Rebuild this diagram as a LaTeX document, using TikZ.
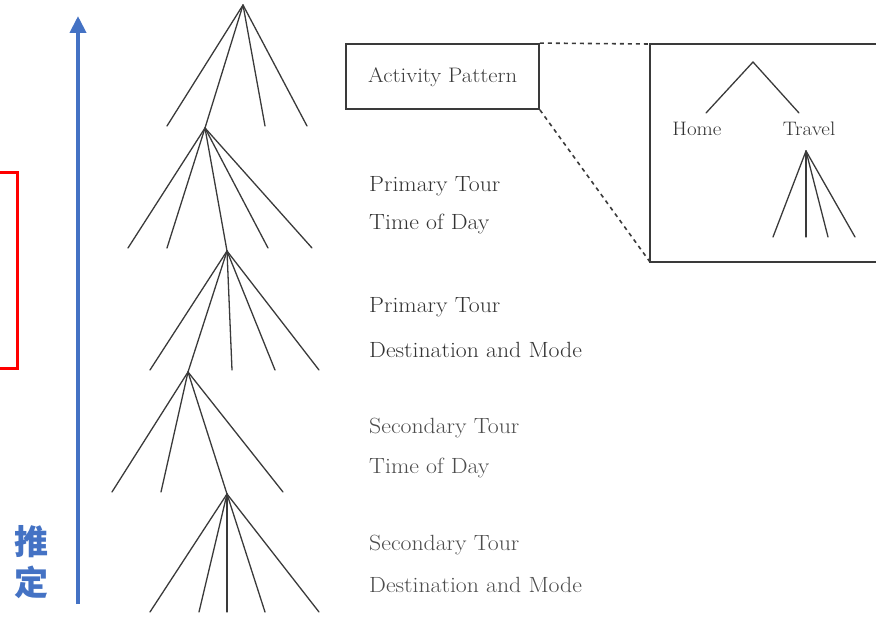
\documentclass[tikz,border=0pt]{standalone}
\usepackage{fontspec}
\newfontfamily\cjk{Noto Sans CJK SC}
\usetikzlibrary{arrows.meta}
\definecolor{arrowblue}{HTML}{4472C4}
\definecolor{ink}{HTML}{3A3A3A}
\definecolor{labeltext}{HTML}{333333}
\definecolor{labellight}{HTML}{4C4C4C}
\begin{document}
\begin{tikzpicture}[x=1pt,y=-1pt,
  branch/.style={draw=ink, line width=1.3pt, line cap=round},
  frame/.style={draw=ink, line width=1.8pt},
  zoomline/.style={draw=ink, line width=1.6pt, dash pattern=on 4pt off 4pt},
  level/.style={anchor=base west, inner sep=0pt, text=labeltext, xscale=1.08, font=\fontsize{22}{26}\selectfont},
  levellight/.style={level, text=labellight},
  small/.style={anchor=base, inner sep=0pt, text=labeltext, xscale=1.08, font=\fontsize{19.5}{23}\selectfont},
  cjklabel/.style={inner sep=0pt, text=arrowblue, font=\cjk\bfseries\fontsize{34}{34}\selectfont}
]
\useasboundingbox (0,0) rectangle (876,620);
\clip (0,0) rectangle (876,620);

% ---- nested choice tree (top to bottom) ----
\coordinate (n1) at (243,5);
\coordinate (n2) at (205,128);
\coordinate (n3) at (227,251);
\coordinate (n4) at (188,372);
\coordinate (n5) at (227,494);

% level 1 : activity pattern
\foreach \x [count=\i] in {167,265,307} \coordinate (a\i) at (\x,126);
\foreach \i in {1,2,3} \draw[branch] (n1) -- (a\i);
\draw[branch] (n1) -- (n2);

% level 2 : primary tour time of day
\foreach \x [count=\i] in {128,167,268,312} \coordinate (b\i) at (\x,248);
\foreach \i in {1,...,4} \draw[branch] (n2) -- (b\i);
\draw[branch] (n2) -- (n3);

% level 3 : primary tour destination and mode
\foreach \x [count=\i] in {150,232,275,319} \coordinate (c\i) at (\x,370);
\foreach \i in {1,...,4} \draw[branch] (n3) -- (c\i);
\draw[branch] (n3) -- (n4);

% level 4 : secondary tour time of day
\foreach \x [count=\i] in {112,161,283} \coordinate (d\i) at (\x,492);
\foreach \i in {1,2,3} \draw[branch] (n4) -- (d\i);
\draw[branch] (n4) -- (n5);

% level 5 : secondary tour destination and mode
\foreach \x [count=\i] in {150,199,227,265,319} \coordinate (e\i) at (\x,612);
\foreach \i in {1,...,5} \draw[branch] (n5) -- (e\i);

% ---- level labels ----
\node[frame, minimum width=193pt, minimum height=65pt, inner sep=0pt] (ap) at (442.5,76.5) {};
\node[level, text=ink, font=\fontsize{21}{25}\selectfont] (aptext) at (368,83) {Activity Pattern};

\node[level] (pt1) at (369,192) {Primary Tour};
\node[level] (pt2) at (369,230) {Time of Day};
\node[level] (pd1) at (369,313) {Primary Tour};
\node[level] (pd2) at (369,358) {Destination and Mode};
\node[levellight] (st1) at (369,433) {Secondary Tour};
\node[levellight] (st2) at (369,473) {Time of Day};
\node[levellight] (sd1) at (369,550) {Secondary Tour};
\node[levellight] (sd2) at (369,592) {Destination and Mode};

% ---- detail box for the activity pattern ----
\coordinate (dtl) at (650,44);
\coordinate (dbl) at (650,262);
\coordinate (dtr) at (890,44);
\coordinate (dbr) at (890,262);
\draw[frame] (dtr) -- (dtl) -- (dbl) -- (dbr);
\draw[zoomline] (ap.north east) -- (dtl);
\draw[zoomline] (ap.south east) -- (dbl);

\coordinate (h0) at (753,62);
\coordinate (h1) at (706,113);
\coordinate (h2) at (799,113);
\draw[branch] (h1) -- (h0) -- (h2);
\node[small] (home) at (697,136) {Home};
\node[small] (travel) at (809,136) {Travel};
\coordinate (t0) at (806,151);
\foreach \x [count=\i] in {773,806,828,855} {
  \coordinate (t\i) at (\x,237);
  \draw[branch] (t0) -- (t\i);
}

% ---- estimation direction ----
\coordinate (afoot) at (78,604);
\coordinate (atip) at (78,16);
\draw[arrowblue, line width=4pt, -{Triangle[width=16pt,length=17pt]}] (afoot) -- (atip);
\node[cjklabel] (k1) at (32,542) {推};
\node[cjklabel] (k2) at (32,582) {定};

% ---- highlight frame ----
\coordinate (rtr) at (17,173);
\coordinate (rbr) at (17,369);
\draw[red, line width=3pt] (-10,173) -- (rtr) -- (rbr) -- (-10,369);
\end{tikzpicture}
\end{document}
